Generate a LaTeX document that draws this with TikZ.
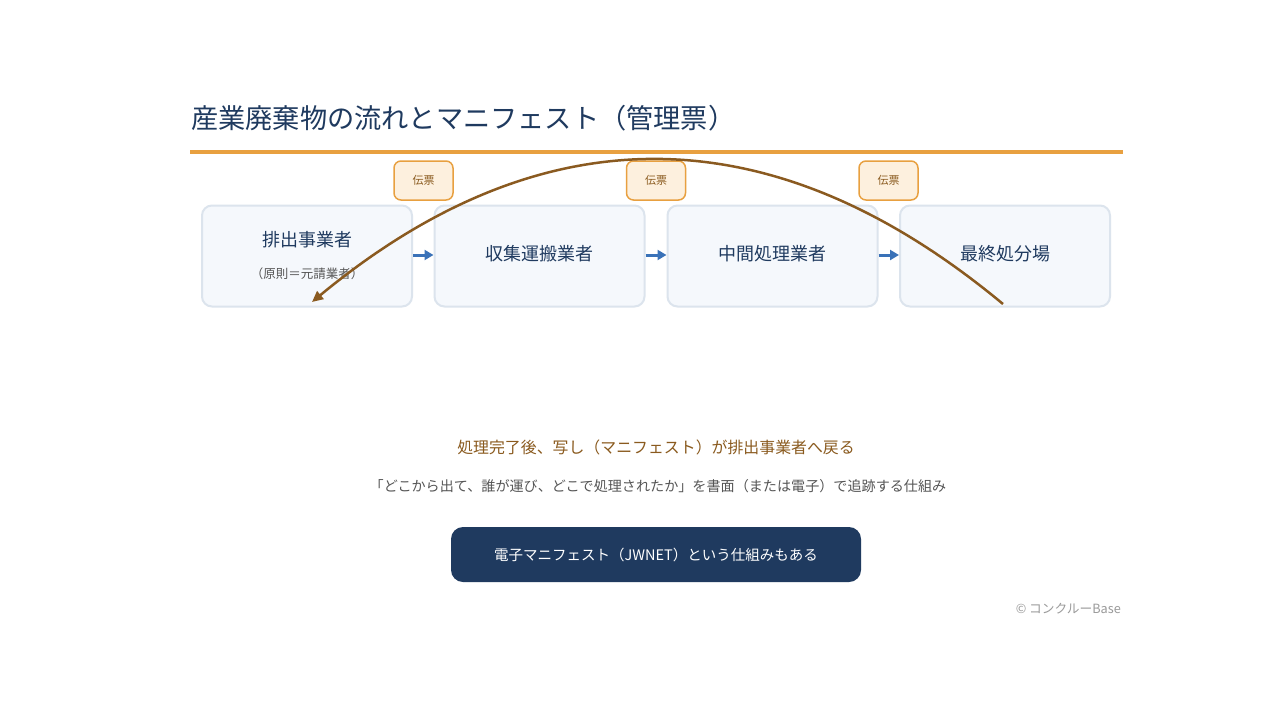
\documentclass[tikz,border=0pt]{standalone}
\usepackage{fontspec}
\setmainfont{Noto Sans CJK JP}
\usetikzlibrary{arrows.meta}
\definecolor{navy}{HTML}{1F3A5F}
\definecolor{orangeline}{HTML}{E8A040}
\definecolor{boxfill}{HTML}{F5F8FC}
\definecolor{boxline}{HTML}{DCE4ED}
\definecolor{tagfill}{HTML}{FDF0DE}
\definecolor{tagtext}{HTML}{8A5A1E}
\definecolor{flowblue}{HTML}{3A72B8}
\definecolor{curvebrown}{HTML}{8A5A20}
\definecolor{graytext}{HTML}{555555}
\definecolor{lightgray}{HTML}{9A9A9A}
\newcommand{\fsz}[1]{\fontsize{#1}{#1}\selectfont}
\tikzset{
  stagebox/.style={draw=boxline, line width=2pt, fill=boxfill, rounded corners=10pt,
    minimum width=210pt, minimum height=101pt, inner sep=0pt},
  stagetext/.style={text=navy, font=\fsz{18}, inner sep=0pt},
  tagbox/.style={draw=orangeline, line width=1.5pt, fill=tagfill, rounded corners=7pt,
    minimum width=59pt, minimum height=39pt, inner sep=0pt, text=tagtext, font=\fsz{11}},
  flowarrow/.style={draw=flowblue, line width=3pt, -{Triangle[length=9pt,width=10pt]}},
}
\begin{document}
\begin{tikzpicture}[x=1pt,y=-1pt]
\useasboundingbox (0,0) rectangle (1280,720);
\fill[white] (0,0) rectangle (1280,720);
% title
\node[anchor=west, text=navy, font=\fsz{27.2}, inner sep=0pt] (title) at (191,118) {産業廃棄物の流れとマニフェスト（管理票）};
\draw[orangeline, line width=3.5pt] (190,152) -- (1123,152);
% boxes
\node[stagebox] (b1) at (307,256) {};
\node[stagebox] (b2) at (539.5,256) {};
\node[stagebox] (b3) at (772.5,256) {};
\node[stagebox] (b4) at (1005,256) {};
\node[stagetext] (t1) at (307,240) {排出事業者};
\node[text=graytext, font=\fsz{12.5}, inner sep=0pt] (t1s) at (307,274) {（原則＝元請業者）};
\node[stagetext] (t2) at (539.5,254) {収集運搬業者};
\node[stagetext] (t3) at (772.5,254) {中間処理業者};
\node[stagetext] (t4) at (1005,254) {最終処分場};
% flow arrows
\draw[flowarrow] (b1.east |- 0,255) -- (b2.west |- 0,255);
\draw[flowarrow] (b2.east |- 0,255) -- (b3.west |- 0,255);
\draw[flowarrow] (b3.east |- 0,255) -- (b4.west |- 0,255);
% tags
\node[tagbox] (g1) at (423.5,180.5) {伝票};
\node[tagbox] (g2) at (656,180.5) {伝票};
\node[tagbox] (g3) at (888.5,180.5) {伝票};
% return curve
\coordinate (cs) at (1003,304);
\coordinate (ce) at (312,302);
\draw[curvebrown, line width=2.5pt, -{Triangle[length=11pt,width=10pt]}]
  (cs) .. controls (772,112) and (542,112) .. (ce);
% texts
\node[text=tagtext, font=\fsz{15.9}, inner sep=0pt] (n1) at (656,447) {処理完了後、写し（マニフェスト）が排出事業者へ戻る};
\node[text=graytext, font=\fsz{14.1}, inner sep=0pt] (n2) at (658,486) {「どこから出て、誰が運び、どこで処理されたか」を書面（または電子）で追跡する仕組み};
\node[fill=navy, rounded corners=12pt, minimum width=410pt, minimum height=55pt, inner sep=0pt,
  text=white, font=\fsz{14.5}] (btn) at (656,554.5) {電子マニフェスト（JWNET）という仕組みもある};
\node[anchor=east, text=lightgray, font=\fsz{12.7}, inner sep=0pt] (copy) at (1121,609) {© コンクルーBase};
\end{tikzpicture}
\end{document}
